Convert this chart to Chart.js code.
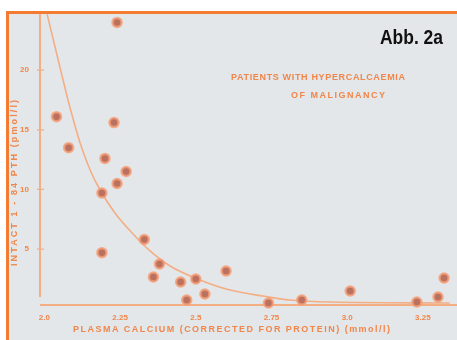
<!DOCTYPE html>
<html>
<head>
<meta charset="utf-8">
<script src="https://cdn.jsdelivr.net/npm/chart.js@4/dist/chart.umd.min.js"></script>
<style>
  html, body { margin: 0; padding: 0; background: #ffffff; }
  canvas { display: block; }
</style>
</head>
<body>
<canvas id="chart" width="457" height="340"></canvas>
<script>
// Plasma calcium (corrected for protein), mmol/l, per patient
const calcium = [2.24, 2.04, 2.23, 2.08, 2.20, 2.27, 2.24, 2.19, 2.33, 2.19, 2.38, 2.36,
                 2.45, 2.50, 2.60, 2.53, 2.47, 2.74, 2.85, 3.01, 3.23, 3.30, 3.32];
// Intact 1-84 PTH, pmol/l, per patient
const pth = [24.0, 16.1, 15.6, 13.5, 12.6, 11.5, 10.5, 9.7, 5.8, 4.7, 3.75, 2.66,
             2.24, 2.49, 3.16, 1.23, 0.73, 0.48, 0.73, 1.48, 0.56, 0.98, 2.57];

// Fitted regression curve
const fitCalcium = [2.009, 2.052, 2.085, 2.118, 2.151, 2.184, 2.233, 2.293, 2.349, 2.415,
                    2.514, 2.613, 2.722, 2.812, 2.944, 3.339];
const fitPth     = [24.7, 20.18, 16.82, 13.89, 11.63, 9.95, 8.02, 6.26, 4.84, 3.58,
                    2.41, 1.56, 1.06, 0.73, 0.56, 0.48];

// Axis ticks
const xTicks = [2.0, 2.25, 2.5, 2.75, 3.0, 3.25];
const xTickLabels = ['2.0', '2.25', '2.5', '2.75', '3.0', '3.25'];
const yTicks = [5, 10, 15, 20];
const yTickLabels = ['5', '10', '15', '20'];

const titleLines = ['PATIENTS WITH HYPERCALCAEMIA', 'OF MALIGNANCY'];
const xTitle = 'PLASMA CALCIUM (CORRECTED FOR PROTEIN) (mmol/l)';
const yTitle = 'INTACT 1 - 84 PTH (pmol/l)';
const figureLabel = 'Abb. 2a';

const ORANGE_TEXT = '#f0864a';
const ORANGE_LINE = '#f3ae84';
const FRAME = '#f47b32';
const PAPER = '#e4e7ea';

// Draw a line of text stretched to a given width with letter spacing
function spacedText(ctx, text, x, y, width) {
  ctx.letterSpacing = '0px';
  const natural = ctx.measureText(text).width;
  const gap = (width - natural) / Math.max(1, text.length - 1);
  if ('letterSpacing' in ctx && gap >= 0) {
    ctx.letterSpacing = gap + 'px';
    ctx.textAlign = 'left';
    ctx.fillText(text, x, y);
    ctx.letterSpacing = '0px';
  } else {
    ctx.save();
    ctx.translate(x, y);
    ctx.scale(width / natural, 1);
    ctx.textAlign = 'left';
    ctx.fillText(text, 0, 0);
    ctx.restore();
  }
}

const backdrop = {
  id: 'backdrop',
  beforeDraw(chart) {
    const ctx = chart.ctx;
    ctx.save();
    ctx.fillStyle = '#ffffff';
    ctx.fillRect(0, 0, chart.width, chart.height);
    ctx.fillStyle = PAPER;
    ctx.fillRect(8, 13, chart.width - 8, chart.height - 13);
    // frame edges
    ctx.fillStyle = FRAME;
    ctx.fillRect(6, 11, chart.width - 6, 3);
    ctx.fillRect(6, 11, 3, chart.height - 11);
    ctx.restore();
  },
  beforeDatasetsDraw(chart) {
    const ctx = chart.ctx;
    const ys = chart.scales.y;
    const left = chart.chartArea.left, bottom = chart.chartArea.bottom;
    ctx.save();
    ctx.strokeStyle = ORANGE_LINE;
    ctx.lineWidth = 2;
    ctx.beginPath();
    ctx.moveTo(left, 14);
    ctx.lineTo(left, bottom - 8);
    ctx.moveTo(left, bottom);
    ctx.lineTo(chart.width, bottom);
    ctx.stroke();
    // short tick marks across the y axis
    ctx.lineWidth = 1.2;
    ctx.beginPath();
    yTicks.forEach(v => {
      const py = ys.getPixelForValue(v);
      ctx.moveTo(left - 3, py);
      ctx.lineTo(left + 4, py);
    });
    ctx.stroke();
    ctx.restore();
  },
  afterDraw(chart) {
    const ctx = chart.ctx;
    ctx.save();
    ctx.fillStyle = ORANGE_TEXT;
    ctx.textBaseline = 'middle';
    ctx.font = 'bold 9px "Liberation Sans", Arial, sans-serif';
    spacedText(ctx, titleLines[0], 231, 78, 174);
    spacedText(ctx, titleLines[1], 291, 96, 94);
    spacedText(ctx, xTitle, 73, 330, 317);
    // rotated y title
    ctx.save();
    ctx.translate(15, 183);
    ctx.rotate(-Math.PI / 2);
    spacedText(ctx, yTitle, -83, 0, 166);
    ctx.restore();
    // figure label
    ctx.fillStyle = '#111111';
    ctx.textBaseline = 'alphabetic';
    ctx.font = 'bold 21px "Liberation Sans Narrow", "Liberation Sans", Arial, sans-serif';
    const w = ctx.measureText(figureLabel).width;
    ctx.save();
    ctx.translate(443, 44);
    ctx.scale(63 / w, 1);
    ctx.textAlign = 'right';
    ctx.fillText(figureLabel, 0, 0);
    ctx.restore();
    ctx.restore();
  }
};

const tickFont = { family: '"Liberation Sans", Arial, sans-serif', size: 8, weight: 'bold' };

new Chart(document.getElementById('chart').getContext('2d'), {
  data: {
    datasets: [
      {
        type: 'line',
        data: fitCalcium.map((c, i) => ({ x: c, y: fitPth[i] })),
        borderColor: ORANGE_LINE,
        borderWidth: 1.6,
        pointRadius: 0,
        cubicInterpolationMode: 'monotone',
        fill: false,
        order: 2
      },
      {
        type: 'scatter',
        data: calcium.map((c, i) => ({ x: c, y: pth[i] })),
        pointRadius: 4.5,
        backgroundColor: '#bb715f',
        borderColor: 'rgba(245,156,116,0.8)',
        borderWidth: 2.5,
        clip: false,
        order: 1
      }
    ]
  },
  options: {
    responsive: false,
    animation: false,
    devicePixelRatio: 1,
    layout: { padding: { top: 13, right: 7, left: 0, bottom: 0 } },
    plugins: { legend: { display: false }, tooltip: { enabled: false } },
    scales: {
      x: {
        type: 'linear',
        min: 1.9855,
        max: 3.3395,
        afterBuildTicks: s => { s.ticks = xTicks.map(v => ({ value: v })); },
        afterFit: s => { s.height = 35; },
        grid: { display: false },
        border: { display: false },
        ticks: {
          padding: 0,
          color: ORANGE_TEXT,
          font: tickFont,
          maxRotation: 0,
          autoSkip: false,
          callback: (v, i) => xTickLabels[i]
        }
      },
      y: {
        type: 'linear',
        min: 0.31,
        max: 24.79,
        afterBuildTicks: s => { s.ticks = yTicks.map(v => ({ value: v })); },
        afterFit: s => { s.width = 40; },
        grid: { display: false },
        border: { display: false },
        ticks: {
          padding: 3,
          color: ORANGE_TEXT,
          font: tickFont,
          autoSkip: false,
          callback: (v, i) => yTickLabels[i]
        }
      }
    }
  },
  plugins: [backdrop]
});
</script>
</body>
</html>
